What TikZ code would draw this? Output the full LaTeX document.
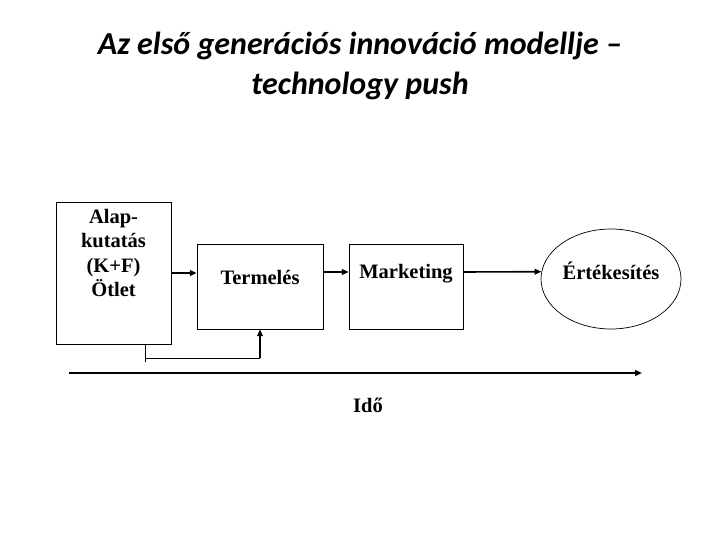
\documentclass[tikz,border=0pt]{standalone}
\usepackage{fontspec}
\setmainfont{Liberation Serif}
\newfontfamily\titlefont{Carlito}
\usetikzlibrary{arrows.meta,calc,shapes.geometric}

\begin{document}
\begin{tikzpicture}[
  x=1pt, y=-1pt,
  stage/.style={
    draw=black, line width=0.7pt, fill=white,
    inner sep=0pt
  },
  stagetext/.style={
    font=\fontsize{20.5}{24.5}\selectfont\bfseries, align=center, inner sep=0pt
  },
  flow/.style={-{Triangle[length=2.4mm,width=2mm]}, line width=1.6pt},
  backflow/.style={line width=0.7pt},
  timeaxis/.style={-{Triangle[length=2.4mm,width=2mm]}, line width=1.8pt}
]
\useasboundingbox (0,0) rectangle (720,540);

% Title in two lines.
\node[font=\titlefont\fontsize{32}{40}\selectfont\bfseries\itshape, align=center]
  (title) at (360,66) {Az első generációs innováció modellje –\\technology push};

% The three stages and the market.
\node[stage, minimum width=115pt, minimum height=142pt] (alap) at (113.5,273) {};
\node[stage, minimum width=126pt, minimum height=85pt]  (term) at (260,286.5) {};
\node[stage, minimum width=114pt, minimum height=85pt]  (mark) at (406,286.5) {};
\node[stage, ellipse, minimum width=140pt, minimum height=100pt] (ertek) at (611,279) {};

\node[stagetext] at ([yshift=20pt]alap.center) {Alap-\\kutatás\\(K+F)\\Ötlet};
\node[stagetext] at ([yshift=9pt]term.center) {Termelés};
\node[stagetext] at ([yshift=13pt]mark.center) {Marketing};
\node[stagetext] at ([yshift=8pt]ertek.center) {Értékesítés};

% Forward flow between the stages.
\draw[flow] (alap.east) -- (alap.east -| term.west);
\draw[flow] ([yshift=14.5pt]term.east) -- ([yshift=14.5pt]mark.west);
\draw[flow] ([yshift=14.5pt]mark.east) -- (ertek.174);

% Feedback from the idea into production.
\coordinate (fb) at (145,358);
\draw[backflow] ($(fb)+(0,-13)$) -- ($(fb)+(0,4)$);
\draw[backflow] (fb) -- (fb -| term.south);
\draw[flow] (fb -| term.south) -- (term.south);

% Time axis.
\coordinate (t0) at (69,373);
\coordinate (t1) at (642,373);
\draw[timeaxis] (t0) -- (t1);
\node[stagetext] (ido) at (368,405) {Idő};

\end{tikzpicture}
\end{document}
